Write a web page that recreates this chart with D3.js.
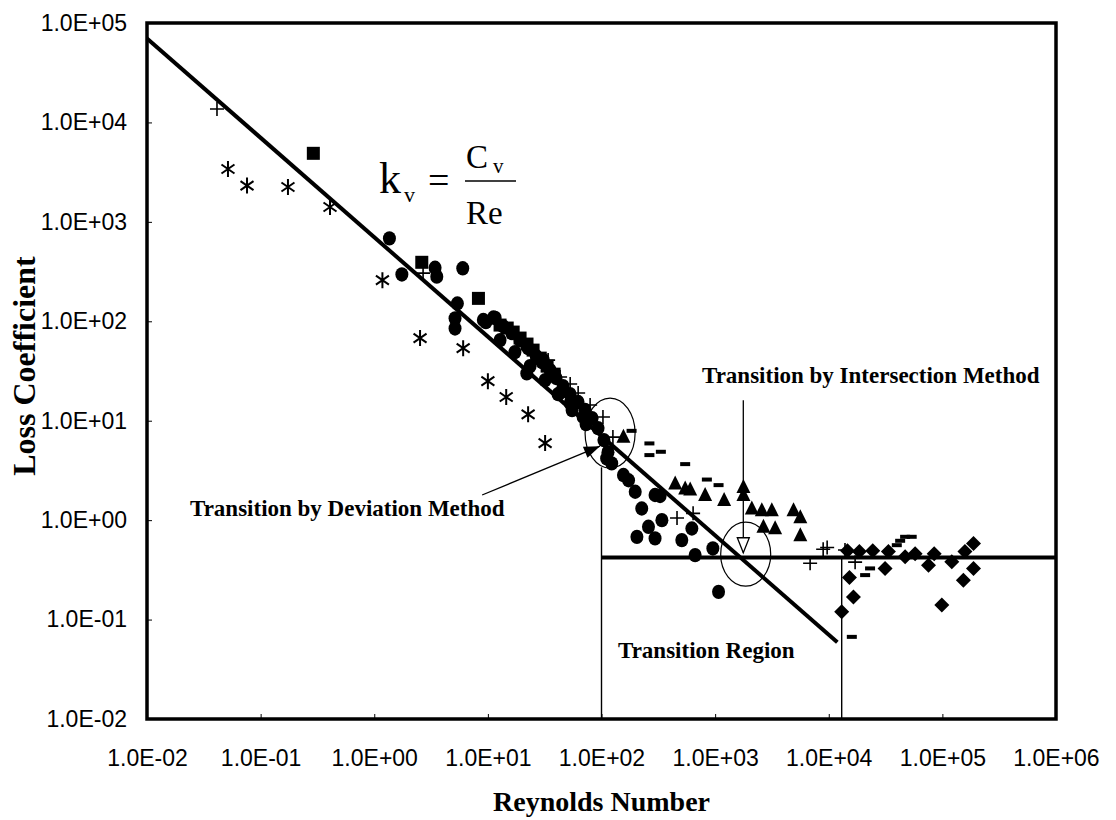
<!DOCTYPE html>
<html>
<head>
<meta charset="utf-8">
<script src="https://cdn.jsdelivr.net/npm/d3@7"></script>
<style>
  body { margin: 0; background: #fff; }
  .tick text { font-family: "Liberation Sans", Arial, sans-serif; font-size: 23px; fill: #000; }
  .tick line { stroke: #000; stroke-width: 1; }
  .serif { font-family: "Liberation Serif", "Times New Roman", serif; fill: #000; }
</style>
</head>
<body>
<script>
// axis ticks
const xTicks = [1e-2, 1e-1, 1e0, 1e1, 1e2, 1e3, 1e4, 1e5, 1e6];
const yTicks = [1e-2, 1e-1, 1e0, 1e1, 1e2, 1e3, 1e4, 1e5];

// data series, [Reynolds number, loss coefficient]
const asterisks = [[0.0516, 3400], [0.0759, 2317], [0.174, 2240], [0.408, 1409], [1.18, 259],
  [2.53, 67.8], [6.06, 53.7], [10.0, 25.0], [14.5, 17.3], [22.6, 11.6], [31.9, 5.96]];
const pluses = [[0.0413, 13640], [2.69, 305], [33.9, 40.7], [43.2, 27.5], [53.0, 23.4], [62.3, 19.0],
  [79.4, 14.4], [103, 10.9], [126, 6.84], [462, 1.05], [640, 1.17], [6855, 0.369], [8930, 0.51],
  [9680, 0.53], [13900, 0.50], [17060, 0.378]];
const squares = [[0.291, 4890], [2.62, 392], [8.26, 170], [12.8, 91.6], [14.8, 85.5], [16.7, 77.9],
  [19.2, 67.8], [22.1, 59.0], [25.0, 51.3], [28.9, 42.6], [33.2, 35.4], [38.3, 29.4]];
const circles = [[1.36, 682], [1.75, 296], [3.43, 345], [3.55, 281], [6.01, 341], [5.39, 151],
  [5.14, 107], [5.14, 84.7], [9.12, 103], [11.2, 109],
  [9.6, 98], [11.6, 108], [13.6, 89.5], [16.3, 76], [19.2, 64.7], [22.6, 53.7], [26.6, 44.7],
  [30.0, 38.9], [35.3, 32.3], [39.8, 26.9], [45.9, 22.3], [52.9, 18.5], [62.2, 15.4], [71.8, 12.8],
  [82.6, 10.6], [93.3, 8.43], [105, 6.38], [114, 4.83],
  [12.8, 64.7], [17.3, 49.0], [23.5, 35.4], [31.9, 25.6], [41.5, 18.5], [55.1, 12.8], [73.1, 9.25],
  [22.0, 29.9], [30.8, 40.7], [43.2, 19.0], [53.0, 15.0], [68.9, 10.9],
  [111, 4.18], [123, 3.72], [156, 2.84], [173, 2.52], [198, 1.93], [296, 1.79], [328, 1.75],
  [226, 1.31], [340, 1.0], [259, 0.857], [205, 0.679], [296, 0.655], [509, 0.63], [624, 0.824],
  [667, 0.445], [955, 0.519], [1072, 0.19]];
const triangles = [[156, 6.89], [445, 2.34], [545, 2.08], [603, 2.03], [817, 1.79], [1200, 1.59],
  [1774, 2.16], [1774, 1.79], [2104, 1.31], [2576, 1.26], [2662, 0.857], [3155, 1.26], [3373, 0.83],
  [4898, 1.26], [5623, 1.07], [5623, 0.706]];
const dashes = [[184, 7.91], [264, 5.91], [264, 4.51], [333, 4.87], [545, 3.66], [846, 2.56],
  [1072, 2.25], [23100, 0.327], [20900, 0.28], [15960, 0.067], [39700, 0.56], [42500, 0.62],
  [47000, 0.68], [53700, 0.68]];
const diamonds = [[13000, 0.12], [15200, 0.265], [16500, 0.169], [14600, 0.491], [18600, 0.485],
  [24400, 0.491], [31300, 0.327], [33500, 0.485], [47000, 0.428], [57600, 0.46], [75500, 0.352],
  [84700, 0.46], [98900, 0.14], [121000, 0.381], [153000, 0.249], [158000, 0.485], [188000, 0.327],
  [188000, 0.583]];

// k_v = C_v / Re fit and the constant high-Re loss coefficient
const fitLine = [[0.01, 70000], [11900, 0.059]];
const plateau = [[100, 0.42], [1e6, 0.42]];
const regionBounds = [[100, 3.4], [13000, 0.42]];
const circledPoints = [[119, 7.5], [1858, 0.455]];
const deviationArrow = [[8.9, 1.79], [97, 5.55]];
const intersectionArrow = [[1770, 16.1], [1770, 0.47]];

const WIDTH = 1116;
const HEIGHT = 820;

const svg = d3.select("body").append("svg")
  .attr("width", WIDTH)
  .attr("height", HEIGHT);

const x = d3.scaleLog().domain([1e-2, 1e6]).range([147, 1056]);
const y = d3.scaleLog().domain([1e-2, 1e5]).range([719, 23]);

const fmt = d => {
  const e = Math.round(Math.log10(d));
  return "1.0E" + (e < 0 ? "-" : "+") + String(Math.abs(e)).padStart(2, "0");
};

svg.append("g")
  .attr("transform", `translate(0,${y.range()[0]})`)
  .call(d3.axisBottom(x).tickValues(xTicks).tickFormat(fmt).tickSizeInner(-5).tickSizeOuter(0).tickPadding(31))
  .call(g => g.select(".domain").remove());

svg.append("g")
  .attr("transform", `translate(${x.range()[0]},0)`)
  .call(d3.axisLeft(y).tickValues(yTicks).tickFormat(fmt).tickSizeInner(-5).tickSizeOuter(0).tickPadding(20))
  .call(g => g.select(".domain").remove());

const line = d3.line().x(d => x(d[0])).y(d => y(d[1]));

// thin boundaries of the transition region
regionBounds.forEach(d => {
  svg.append("line")
    .attr("x1", x(d[0])).attr("x2", x(d[0]))
    .attr("y1", y(d[1])).attr("y2", y.range()[0])
    .attr("stroke", "#000").attr("stroke-width", 1.4);
});

// markers
const g = svg.append("g");
const pts = (data) => g.selectAll(null).data(data).enter();

pts(circles).append("ellipse")
  .attr("cx", d => x(d[0])).attr("cy", d => y(d[1]))
  .attr("rx", 6.5).attr("ry", 7.2).attr("fill", "#000");

pts(squares).append("rect")
  .attr("x", d => x(d[0]) - 6.5).attr("y", d => y(d[1]) - 6.5)
  .attr("width", 13).attr("height", 13).attr("fill", "#000");

pts(triangles).append("path")
  .attr("d", d => { const cx = x(d[0]), cy = y(d[1]); return `M${cx},${cy - 8}L${cx + 7},${cy + 6}L${cx - 7},${cy + 6}Z`; })
  .attr("fill", "#000");

pts(diamonds).append("path")
  .attr("d", d => { const cx = x(d[0]), cy = y(d[1]); return `M${cx},${cy - 7.5}L${cx + 7.5},${cy}L${cx},${cy + 7.5}L${cx - 7.5},${cy}Z`; })
  .attr("fill", "#000");

pts(dashes).append("rect")
  .attr("x", d => x(d[0]) - 5).attr("y", d => y(d[1]) - 2)
  .attr("width", 10).attr("height", 4).attr("fill", "#000");

pts(pluses).append("path")
  .attr("d", d => { const cx = x(d[0]), cy = y(d[1]); return `M${cx - 7},${cy}H${cx + 7}M${cx},${cy - 7}V${cy + 7}`; })
  .attr("stroke", "#000").attr("stroke-width", 1.6).attr("fill", "none");

pts(asterisks).append("path")
  .attr("d", d => {
    const cx = x(d[0]), cy = y(d[1]);
    return `M${cx},${cy - 8}V${cy + 8}M${cx - 6.5},${cy - 4.5}L${cx + 6.5},${cy + 4.5}M${cx - 6.5},${cy + 4.5}L${cx + 6.5},${cy - 4.5}`;
  })
  .attr("stroke", "#000").attr("stroke-width", 2).attr("fill", "none");

// fit line and plateau
svg.append("path").datum(fitLine).attr("d", line)
  .attr("stroke", "#000").attr("stroke-width", 4).attr("fill", "none");
svg.append("path").datum(plateau).attr("d", line)
  .attr("stroke", "#000").attr("stroke-width", 4).attr("fill", "none");

// circled transition points
svg.selectAll(".ring").data(circledPoints).enter().append("ellipse")
  .attr("cx", d => x(d[0])).attr("cy", d => y(d[1]))
  .attr("rx", 25).attr("ry", (d, i) => i === 0 ? 35 : 32)
  .attr("fill", "none").attr("stroke", "#000").attr("stroke-width", 1.2);

// deviation arrow, filled head
{
  const [a, b] = deviationArrow.map(d => [x(d[0]), y(d[1])]);
  svg.append("line").attr("x1", a[0]).attr("y1", a[1]).attr("x2", b[0]).attr("y2", b[1])
    .attr("stroke", "#000").attr("stroke-width", 1.3);
  const ang = Math.atan2(b[1] - a[1], b[0] - a[0]);
  const L = 16, W = 6;
  const bx = b[0] - L * Math.cos(ang), by = b[1] - L * Math.sin(ang);
  svg.append("path")
    .attr("d", `M${b[0]},${b[1]}L${bx - W * Math.sin(ang)},${by + W * Math.cos(ang)}L${bx + W * Math.sin(ang)},${by - W * Math.cos(ang)}Z`)
    .attr("fill", "#000");
}

// intersection arrow, open head
{
  const [a, b] = intersectionArrow.map(d => [x(d[0]), y(d[1])]);
  svg.append("line").attr("x1", a[0]).attr("y1", a[1]).attr("x2", b[0]).attr("y2", b[1])
    .attr("stroke", "#000").attr("stroke-width", 1.3);
  svg.append("path")
    .attr("d", `M${b[0]},${b[1]}L${b[0] - 6},${b[1] - 15}L${b[0] + 6},${b[1] - 15}Z`)
    .attr("fill", "#fff").attr("stroke", "#000").attr("stroke-width", 1.3);
}

// frame
svg.append("rect")
  .attr("x", x.range()[0]).attr("y", y.range()[1])
  .attr("width", x.range()[1] - x.range()[0]).attr("height", y.range()[0] - y.range()[1])
  .attr("fill", "none").attr("stroke", "#000").attr("stroke-width", 3.5);

// annotations
const note = (tx, ty, s, size) => svg.append("text").attr("class", "serif")
  .attr("x", tx).attr("y", ty).attr("font-size", size).attr("font-weight", "bold").text(s);
note(702, 383, "Transition by Intersection Method", 23);
note(190, 516, "Transition by Deviation Method", 23);
note(618, 658, "Transition Region", 23);

// equation k_v = C_v / Re
const eq = svg.append("g").attr("class", "serif");
eq.append("text").attr("x", 379).attr("y", 193).attr("font-size", 44).text("k");
eq.append("text").attr("x", 404).attr("y", 202).attr("font-size", 22).text("v");
eq.append("text").attr("x", 428).attr("y", 193).attr("font-size", 38).text("=");
eq.append("line").attr("x1", 465).attr("x2", 516).attr("y1", 181).attr("y2", 181)
  .attr("stroke", "#000").attr("stroke-width", 1.5);
eq.append("text").attr("x", 466).attr("y", 168).attr("font-size", 33).text("C");
eq.append("text").attr("x", 493).attr("y", 173).attr("font-size", 21).text("v");
eq.append("text").attr("x", 466).attr("y", 224).attr("font-size", 33).text("Re");

// axis titles
svg.append("text").attr("class", "serif")
  .attr("font-size", 28).attr("font-weight", "bold").attr("text-anchor", "middle")
  .attr("x", (x.range()[0] + x.range()[1]) / 2).attr("y", 811)
  .text("Reynolds Number");
svg.append("text").attr("class", "serif")
  .attr("font-size", 32).attr("font-weight", "bold").attr("text-anchor", "middle")
  .attr("transform", "translate(35,366) rotate(-90)")
  .text("Loss Coefficient");
</script>
</body>
</html>
